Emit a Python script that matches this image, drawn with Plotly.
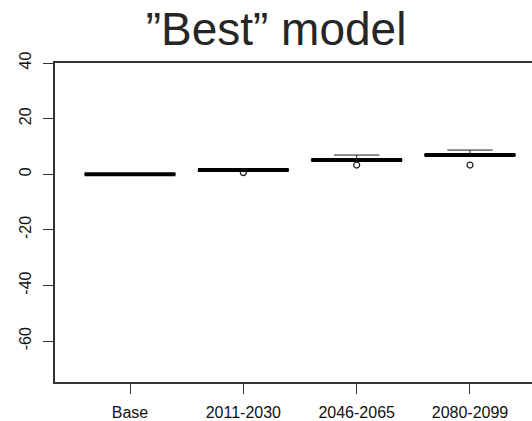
import plotly.graph_objects as go

# Period categories and box statistics (change relative to base)
categories = ["Base", "2011-2030", "2046-2065", "2080-2099"]
q1 = [-0.2, 1.3, 4.8, 6.6]
median = [0.0, 1.5, 5.1, 6.9]
q3 = [0.2, 1.7, 5.4, 7.2]
lower_whisker = [-0.2, 1.3, 4.8, 6.6]
upper_whisker = [0.2, 1.7, 6.9, 8.7]
outliers = [[], [0.6], [3.3], [3.3]]

y_ticks = [40, 20, 0, -20, -40, -60]

BOX_HALF = 0.4
CAP_HALF = 0.2
INK = "#1a1a1a"
FRAME = "#333333"

fig = go.Figure()

for i, cat in enumerate(categories):
    pos = i + 1
    # box outline (q1..q3)
    fig.add_trace(go.Scatter(
        x=[pos - BOX_HALF, pos + BOX_HALF, pos + BOX_HALF, pos - BOX_HALF, pos - BOX_HALF],
        y=[q1[i], q1[i], q3[i], q3[i], q1[i]],
        mode="lines", line=dict(color=INK, width=1), hoverinfo="skip"))
    # upper whisker and cap
    if upper_whisker[i] > q3[i]:
        fig.add_trace(go.Scatter(
            x=[pos, pos, None, pos - CAP_HALF, pos + CAP_HALF],
            y=[q3[i], upper_whisker[i], None, upper_whisker[i], upper_whisker[i]],
            mode="lines", line=dict(color=INK, width=1), hoverinfo="skip"))
    # lower whisker and cap
    if lower_whisker[i] < q1[i]:
        fig.add_trace(go.Scatter(
            x=[pos, pos, None, pos - CAP_HALF, pos + CAP_HALF],
            y=[q1[i], lower_whisker[i], None, lower_whisker[i], lower_whisker[i]],
            mode="lines", line=dict(color=INK, width=1), hoverinfo="skip"))
    # thick median line
    fig.add_trace(go.Scatter(
        x=[pos - BOX_HALF, pos + BOX_HALF], y=[median[i], median[i]],
        mode="lines", line=dict(color="#000000", width=4), name=cat))
    # outlier points
    if outliers[i]:
        fig.add_trace(go.Scatter(
            x=[pos] * len(outliers[i]), y=outliers[i], mode="markers",
            marker=dict(symbol="circle-open", size=6, color=INK, line=dict(width=1.2)),
            name=cat + " outliers"))

# the figure is a little wider than the page, so the frame's right side
# falls just outside the visible area
fig.update_layout(
    width=545, height=421,
    margin=dict(l=55, r=0, t=63, b=39, autoexpand=False),
    paper_bgcolor="white", plot_bgcolor="white",
    showlegend=False,
    font=dict(family="Liberation Sans, Arial, sans-serif", color="#222222"),
    title=dict(text="\u201dBest\u201d model", x=276 / 545, xanchor="center",
               y=1 - 45 / 421, yanchor="bottom",
               font=dict(size=46, color="#262626")),
    xaxis=dict(
        range=[0.338, 4.662], tickmode="array",
        tickvals=[1, 2, 3, 4], ticktext=categories,
        showgrid=False, zeroline=False, automargin=False,
        showline=True, mirror=True, linecolor=FRAME, linewidth=1.5,
        ticks="outside", ticklen=10, tickcolor=FRAME, tickwidth=1.2,
        ticklabelstandoff=5,
        tickfont=dict(size=16, color="#111111"),
    ),
    yaxis=dict(
        range=[-74.7, 40], tickmode="array", tickvals=y_ticks,
        ticktext=[str(v) for v in y_ticks],
        showgrid=False, zeroline=False, automargin=False,
        showline=True, mirror=True, linecolor=FRAME, linewidth=1.5,
        ticks="outside", ticklen=10, tickcolor=FRAME, tickwidth=1.2,
        ticklabelstandoff=6,
        tickangle=-90, tickfont=dict(size=16, color="#111111"),
    ),
)

fig.write_html(
    "out.html",
    config={"displayModeBar": False},
    post_script="document.documentElement.style.overflow='hidden';"
                "document.body.style.overflow='hidden';",
)
